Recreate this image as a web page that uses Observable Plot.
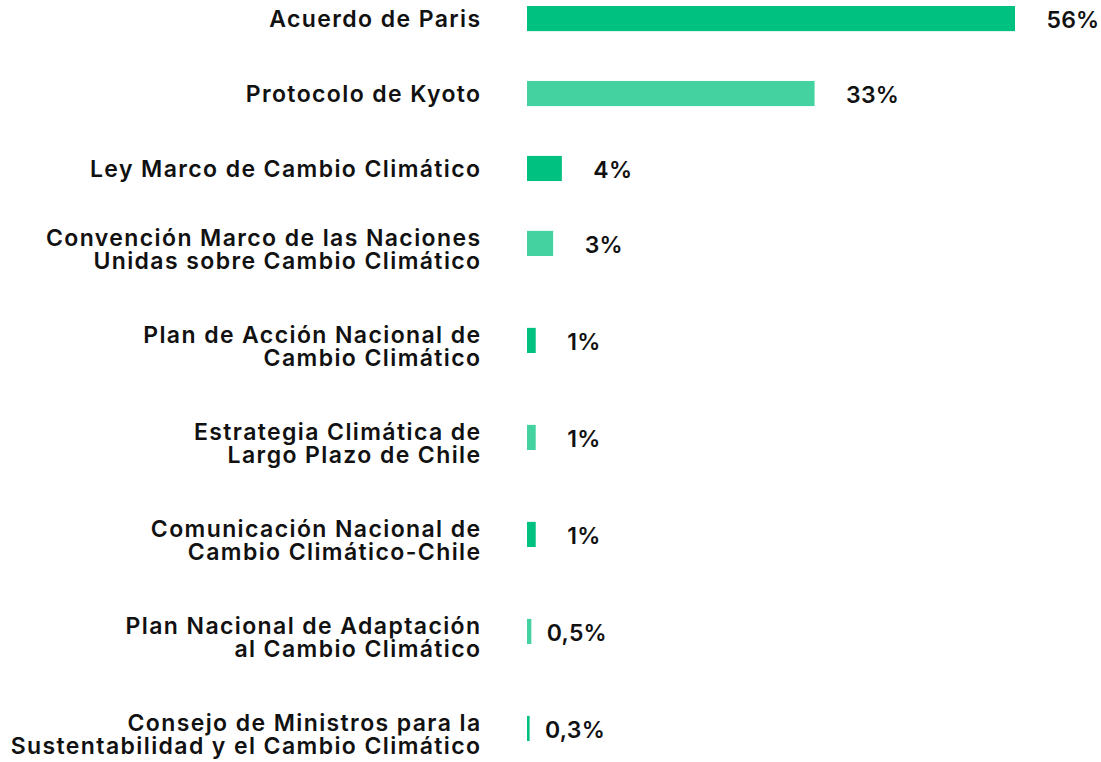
<!DOCTYPE html>
<html>
<head>
<meta charset="utf-8">
<script src="https://cdn.jsdelivr.net/npm/d3@7"></script>
<script src="https://cdn.jsdelivr.net/npm/@observablehq/plot@0.6"></script>
<style>
  html, body { margin: 0; padding: 0; background: #fff; }
  #chart svg { display: block; }
  #chart g[aria-description="names"] text { letter-spacing: 1.4px; }
  #chart g[aria-description="values"] text { letter-spacing: 0.2px; }
</style>
</head>
<body>
<div id="chart"></div>
<script>
const categories = [
  "Acuerdo de Paris",
  "Protocolo de Kyoto",
  "Ley Marco de Cambio Climático",
  "Convención Marco de las Naciones\nUnidas sobre Cambio Climático",
  "Plan de Acción Nacional de\nCambio Climático",
  "Estrategia Climática de\nLargo Plazo de Chile",
  "Comunicación Nacional de\nCambio Climático-Chile",
  "Plan Nacional de Adaptación\nal Cambio Climático",
  "Consejo de Ministros para la\nSustentabilidad y el Cambio Climático"
];
const values = [56, 33, 4, 3, 1, 1, 1, 0.5, 0.3];
const valueLabels = ["56%", "33%", "4%", "3%", "1%", "1%", "1%", "0,5%", "0,3%"];
const colors = ["#00C17F", "#44D3A0"];

// Layout in "text line" units: each row takes its label's line count plus a gap.
const rowGap = 2.4;       // gap between rows, in lines
const barThickness = 1.14; // bar thickness, in lines

let acc = 0;
const data = categories.map((c, i) => {
  const lines = c.split("\n").length;
  const d = {
    name: c,
    value: values[i],
    label: valueLabels[i],
    shade: i % 2 === 0 ? "a" : "b",
    lines,
    top: acc,
    mid: acc + barThickness / 2,
    bottom: acc + barThickness
  };
  acc += lines + rowGap;
  return d;
});
const total = data[data.length - 1].bottom;

const font = "Inter, 'Noto Sans', sans-serif";
const textStyle = { fontSize: 23, fontWeight: 600, fill: "#111" };

const chart = Plot.plot({
  width: 1101,
  height: 762,
  marginLeft: 527,
  marginRight: 86,
  marginTop: 6,
  marginBottom: 21,
  style: { fontFamily: font, background: "#fff" },
  x: { domain: [0, 56], axis: null },
  y: { domain: [0, total], reverse: true, axis: null },
  color: { domain: ["a", "b"], range: colors },
  marks: [
    Plot.rect(data, { x1: () => 0, x2: "value", y1: "top", y2: "bottom", fill: "shade" }),
    Plot.text(data.filter(d => d.lines === 1), {
      y: "mid", text: "name", frameAnchor: "left", textAnchor: "end",
      dx: -46, dy: 1, lineAnchor: "middle", ariaDescription: "names", ...textStyle
    }),
    Plot.text(data.filter(d => d.lines > 1), {
      y: "top", text: "name", frameAnchor: "left", textAnchor: "end",
      dx: -46, dy: -2, lineAnchor: "top", lineHeight: 1.0,
      ariaDescription: "names", ...textStyle
    }),
    Plot.text(data.filter(d => d.value >= 1), {
      y: "mid", x: "value", text: "label", textAnchor: "start",
      dx: 31, dy: 2, ariaDescription: "values", ...textStyle
    }),
    Plot.text(data.filter(d => d.value < 1), {
      y: "mid", x: "value", text: "label", textAnchor: "start",
      dx: 15, dy: 2, ariaDescription: "values", ...textStyle
    })
  ]
});
document.getElementById("chart").appendChild(chart);
</script>
</body>
</html>
